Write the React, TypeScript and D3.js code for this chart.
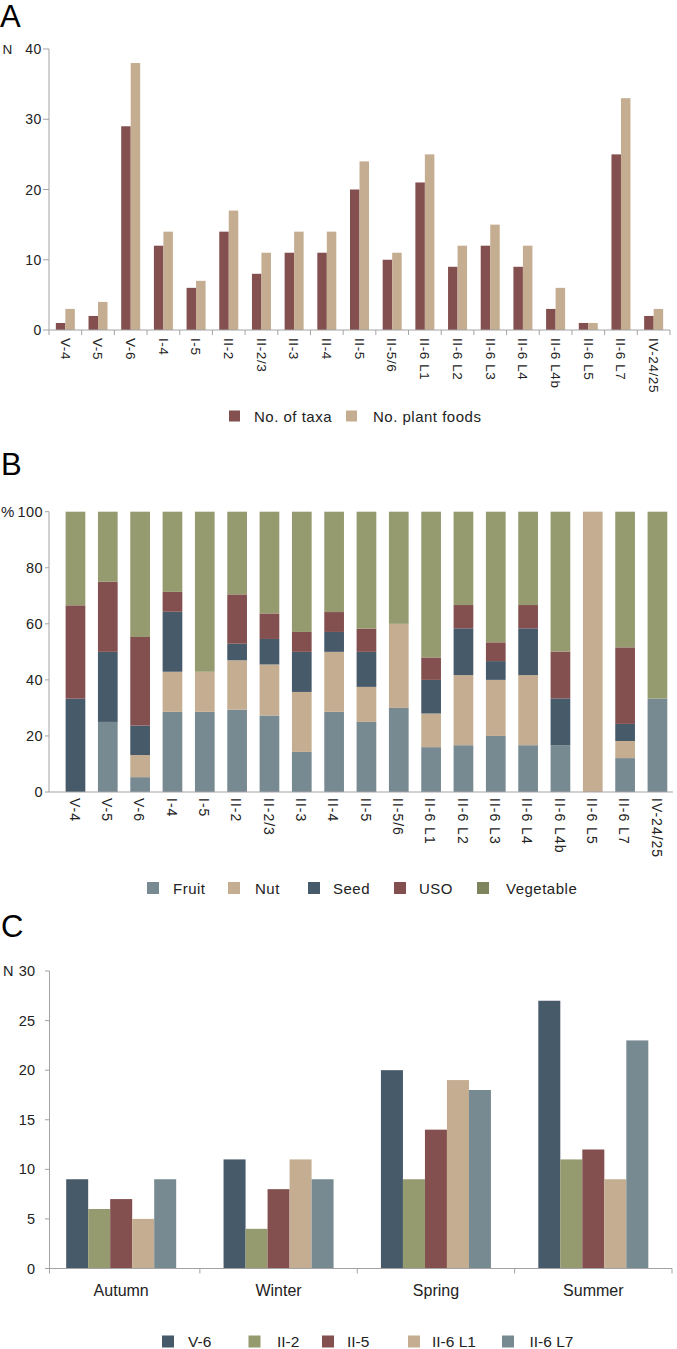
import React from "react";
import * as d3 from "d3";

// ---------- Data ----------
const plots = ["V-4", "V-5", "V-6", "I-4", "I-5", "II-2", "II-2/3", "II-3", "II-4", "II-5", "II-5/6", "II-6 L1", "II-6 L2", "II-6 L3", "II-6 L4", "II-6 L4b", "II-6 L5", "II-6 L7", "IV-24/25"];
const taxaCounts = [1, 2, 29, 12, 6, 14, 8, 11, 11, 20, 10, 21, 9, 12, 9, 3, 1, 25, 2];
const plantFoodCounts = [3, 4, 38, 14, 7, 17, 11, 14, 14, 24, 11, 25, 12, 15, 12, 6, 1, 33, 3];
const seriesA = ["No. of taxa", "No. plant foods"];
const ticksA = [0, 10, 20, 30, 40];

const fruitPct = [0, 25, 5.3, 28.6, 28.6, 29.4, 27.3, 14.3, 28.6, 25, 30, 16, 16.7, 20, 16.7, 16.7, 0, 12.1, 33.3];
const nutPct = [0, 0, 7.9, 14.3, 14.3, 17.6, 18.2, 21.4, 21.4, 12.5, 30, 12, 25, 20, 25, 0, 100, 6.1, 0];
const seedPct = [33.3, 25, 10.5, 21.4, 0, 5.9, 9.1, 14.3, 7.1, 12.5, 0, 12, 16.7, 6.7, 16.7, 16.7, 0, 6.1, 0];
const usoPct = [33.3, 25, 31.6, 7.1, 0, 17.6, 9.1, 7.1, 7.1, 8.3, 0, 8, 8.3, 6.7, 8.3, 16.7, 0, 27.3, 0];
const vegPct = [33.4, 25, 44.7, 28.6, 57.1, 29.5, 36.3, 42.9, 35.8, 41.7, 40, 52, 33.3, 46.6, 33.3, 49.9, 0, 48.4, 66.7];
const seriesB = ["Fruit", "Nut", "Seed", "USO", "Vegetable"];
const ticksB = [0, 20, 40, 60, 80, 100];

const seasons = ["Autumn", "Winter", "Spring", "Summer"];
const seriesC = ["V-6", "II-2", "II-5", "II-6 L1", "II-6 L7"];
const v6Season = [9, 11, 20, 27];
const ii2Season = [6, 4, 9, 11];
const ii5Season = [7, 8, 14, 12];
const l1Season = [5, 11, 19, 9];
const l7Season = [9, 9, 18, 23];
const ticksC = [0, 5, 10, 15, 20, 25, 30];

// ---------- Styles ----------
const MAROON = "#834f4f";
const TAN = "#c4ad90";
const FRUIT = "#788a91";
const SEED = "#475a6a";
const VEG = "#959a6f";
const AXIS = "#a3a3a3";
const TEXT = "#222";
const FONT = "'Liberation Sans', Arial, Helvetica, sans-serif";

const colorsA = [MAROON, TAN];
const colorsB = [FRUIT, TAN, SEED, MAROON, VEG];
const legendColorsB = [FRUIT, TAN, SEED, MAROON, "#7e845b"];
const colorsC = [SEED, VEG, MAROON, TAN, FRUIT];

export default function App() {
  // ---------- Panel A ----------
  const xA = d3.scaleBand<string>().domain(plots).range([49, 670]);
  const yA = d3.scaleLinear().domain([0, 40]).range([330, 49]);
  const innerA = d3.scaleBand<string>().domain(seriesA).range([0, 19]);
  const valuesA = [taxaCounts, plantFoodCounts];
  const offA = (xA.bandwidth() - 19) / 2;

  // ---------- Panel B ----------
  const xB = d3.scaleBand<string>().domain(plots).range([59.3, 673.6]);
  const yB = d3.scaleLinear().domain([0, 100]).range([792, 511.7]);
  const barWB = 19.7;
  const tableB = plots.map((p, i) => ({
    plot: p,
    Fruit: fruitPct[i],
    Nut: nutPct[i],
    Seed: seedPct[i],
    USO: usoPct[i],
    Vegetable: vegPct[i],
  }));
  const stackB = d3.stack<any>().keys(seriesB)(tableB);

  // ---------- Panel C ----------
  const xC = d3.scaleBand<string>().domain(seasons).range([42.5, 672]);
  const innerC = d3.scaleBand<string>().domain(seriesC).range([0, 110]);
  const offC = (xC.bandwidth() - 110) / 2;
  const yC = d3.scaleLinear().domain([0, 30]).range([1268.5, 971]);
  const valuesC = [v6Season, ii2Season, ii5Season, l1Season, l7Season];

  const legendA = [
    { sx: 229, tx: 254 },
    { sx: 346, tx: 373 },
  ];
  const legendB = [
    { sx: 147, tx: 173 },
    { sx: 228, tx: 255 },
    { sx: 308, tx: 333 },
    { sx: 394, tx: 419 },
    { sx: 477, tx: 506 },
  ];
  const legendC = [
    { sx: 162, tx: 188 },
    { sx: 248.5, tx: 277 },
    { sx: 322, tx: 347 },
    { sx: 408, tx: 432 },
    { sx: 502, tx: 529.5 },
  ];

  return (
    <svg
      width={677}
      height={1349}
      style={{ position: "absolute", left: 0, top: 0, display: "block", background: "#fff" }}
      fontFamily={FONT}
    >
      <rect x={0} y={0} width={677} height={1349} fill="#fff" />

      {/* ===== Panel A ===== */}
      <text x={0} y={27} fontSize={31} fill="#000">A</text>
      <text x={2.5} y={yA(40)} fontSize={13.5} fill={TEXT} dominantBaseline="central">N</text>
      {ticksA.map((t) => (
        <g key={"ta" + t}>
          <line x1={43} x2={49} y1={yA(t)} y2={yA(t)} stroke={AXIS} />
          <text x={42} y={yA(t)} fontSize={14} fill={TEXT} textAnchor="end" dominantBaseline="central" letterSpacing={0.6}>
            {t}
          </text>
        </g>
      ))}
      {valuesA.map((vals, s) =>
        plots.map((p, i) => (
          <rect
            key={"a" + s + "-" + i}
            x={(xA(p) as number) + offA + (innerA(seriesA[s]) as number)}
            y={yA(vals[i])}
            width={innerA.bandwidth()}
            height={yA(0) - yA(vals[i])}
            fill={colorsA[s]}
          />
        ))
      )}
      <line x1={49} x2={49} y1={yA(40)} y2={yA(0)} stroke={AXIS} />
      <line x1={49} x2={670} y1={yA(0)} y2={yA(0)} stroke={AXIS} />
      {plots.concat([""]).map((p, i) => {
        const x = 49 + i * xA.step();
        return <line key={"tka" + i} x1={x} x2={x} y1={yA(0)} y2={yA(0) + 5} stroke={AXIS} />;
      })}
      {plots.map((p) => {
        const cx = (xA(p) as number) + xA.bandwidth() / 2;
        return (
          <text
            key={"la" + p}
            transform={`translate(${cx},338) rotate(90)`}
            fontSize={13.5}
            letterSpacing={0.6}
            fill={TEXT}
            dy="0.35em"
          >
            {p}
          </text>
        );
      })}
      {seriesA.map((s, i) => (
        <g key={"lga" + s}>
          <rect x={legendA[i].sx} y={410.5} width={11} height={11} fill={colorsA[i]} />
          <text x={legendA[i].tx} y={416} fontSize={15} letterSpacing={0.5} fill={TEXT} dominantBaseline="central">
            {s}
          </text>
        </g>
      ))}

      {/* ===== Panel B ===== */}
      <text x={1} y={475} fontSize={31} fill="#000">B</text>
      <text x={1} y={yB(100)} fontSize={15} fill={TEXT} dominantBaseline="central">%</text>
      {ticksB.map((t) => (
        <g key={"tb" + t}>
          <line x1={45} x2={49} y1={yB(t)} y2={yB(t)} stroke={AXIS} />
          <text x={43} y={yB(t)} fontSize={14.5} fill={TEXT} textAnchor="end" dominantBaseline="central" letterSpacing={0.4}>
            {t}
          </text>
        </g>
      ))}
      {stackB.map((layer, s) =>
        layer.map((d, i) => {
          const h = yB(d[0]) - yB(d[1]);
          if (h <= 0) return null;
          return (
            <rect
              key={"b" + s + "-" + i}
              x={(xB(plots[i]) as number) + (xB.bandwidth() - barWB) / 2}
              y={yB(d[1])}
              width={barWB}
              height={h}
              fill={colorsB[s]}
            />
          );
        })
      )}
      <line x1={49} x2={49} y1={yB(100)} y2={yB(0)} stroke={AXIS} />
      <line x1={49} x2={673} y1={yB(0)} y2={yB(0)} stroke={AXIS} />
      {plots.map((p) => {
        const cx = (xB(p) as number) + xB.bandwidth() / 2 - 1;
        return (
          <text
            key={"lb" + p}
            transform={`translate(${cx},798) rotate(90)`}
            fontSize={14}
            letterSpacing={1}
            fill={TEXT}
            dy="0.35em"
          >
            {p}
          </text>
        );
      })}
      {seriesB.map((s, i) => (
        <g key={"lgb" + s}>
          <rect x={legendB[i].sx} y={882} width={12} height={12} fill={legendColorsB[i]} />
          <text x={legendB[i].tx} y={888} fontSize={15} letterSpacing={0.5} fill={TEXT} dominantBaseline="central">
            {s}
          </text>
        </g>
      ))}

      {/* ===== Panel C ===== */}
      <text x={1} y={937} fontSize={31} fill="#000">C</text>
      <text x={3} y={yC(30)} fontSize={14.5} fill={TEXT} dominantBaseline="central">N</text>
      {ticksC.map((t) => (
        <g key={"tc" + t}>
          <line x1={45} x2={49.5} y1={yC(t)} y2={yC(t)} stroke={AXIS} />
          <text x={35} y={yC(t)} fontSize={14.5} fill={TEXT} textAnchor="end" dominantBaseline="central">
            {t}
          </text>
        </g>
      ))}
      {valuesC.map((vals, s) =>
        seasons.map((season, i) => (
          <rect
            key={"c" + s + "-" + i}
            x={(xC(season) as number) + offC + (innerC(seriesC[s]) as number)}
            y={yC(vals[i])}
            width={innerC.bandwidth()}
            height={yC(0) - yC(vals[i])}
            fill={colorsC[s]}
          />
        ))
      )}
      <line x1={49.5} x2={49.5} y1={yC(30)} y2={yC(0) + 5} stroke={AXIS} />
      <line x1={49.5} x2={672} y1={yC(0)} y2={yC(0)} stroke={AXIS} />
      {seasons.map((s) => {
        const x = (xC(s) as number) + xC.bandwidth();
        return <line key={"tkc" + s} x1={x} x2={x} y1={yC(0)} y2={yC(0) + 5} stroke={AXIS} />;
      })}
      {seasons.map((s) => (
        <text
          key={"lc" + s}
          x={(xC(s) as number) + xC.bandwidth() / 2}
          y={1290}
          fontSize={16}
          fill={TEXT}
          textAnchor="middle"
          dominantBaseline="central"
        >
          {s}
        </text>
      ))}
      {seriesC.map((s, i) => (
        <g key={"lgc" + s}>
          <rect x={legendC[i].sx} y={1335.5} width={12} height={12} fill={colorsC[i]} />
          <text x={legendC[i].tx} y={1341.5} fontSize={15.5} fill={TEXT} dominantBaseline="central">
            {s}
          </text>
        </g>
      ))}
    </svg>
  );
}
